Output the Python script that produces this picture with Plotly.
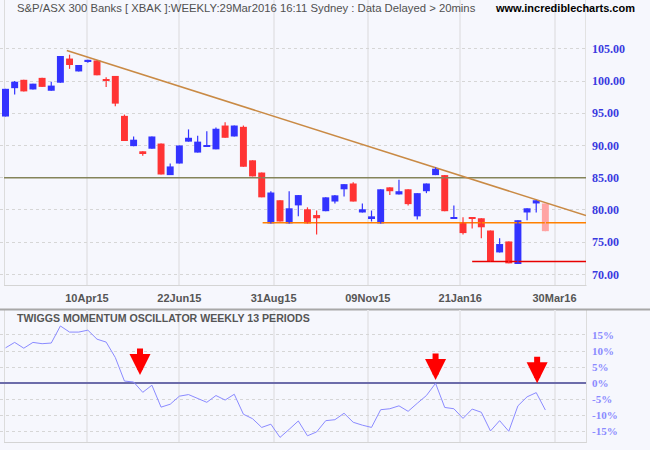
import plotly.graph_objects as go

# ---------------- data ----------------
weeks = list(range(60))
opens = [94.5, 98.9, 100.2, 98.7, 100.5, 98.5, 99.75, 103.5, 101.5, 103.05,
         103.2, 100.25, 100.8, 94.6, 89.9, 89.1, 89.5, 90.3, 85.4, 87.2,
         90.6, 88.9, 89.9, 89.4, 93.1, 91.4, 92.9, 87.7, 85.8, 77.9,
         81.5, 77.9, 80.7, 80.1, 79.2, 79.8, 81.3, 83.2, 84.1, 79.6,
         78.7, 77.9, 83.5, 82.4, 83.2, 79.0, 82.9, 85.4, 85.4, 78.7,
         78.1, 78.85, 78.7, 76.8, 73.4, 75.1, 71.6, 79.6, 81.0, 81.0]
highs = [98.8, 100.0, 100.2, 99.6, 100.5, 99.9, 103.9, 104.1, 102.5, 103.3,
         103.2, 100.6, 100.8, 94.8, 91.4, 89.1, 91.4, 90.3, 87.2, 90.0,
         92.5, 91.5, 92.2, 92.8, 93.6, 93.1, 93.1, 87.7, 85.8, 82.9,
         81.5, 82.9, 82.3, 80.4, 79.9, 81.95, 82.3, 84.0, 84.3, 81.0,
         79.9, 83.2, 83.5, 84.7, 83.2, 82.6, 84.1, 86.6, 85.4, 80.7,
         78.85, 78.85, 78.7, 76.8, 75.6, 75.1, 78.4, 80.25, 81.5, 81.0]
lows = [94.5, 97.9, 98.4, 98.7, 99.1, 98.5, 99.75, 101.9, 101.5, 102.85,
        100.9, 99.1, 96.1, 90.7, 89.9, 88.4, 89.5, 85.5, 85.4, 87.2,
        90.6, 88.9, 89.9, 89.4, 91.2, 91.4, 86.7, 85.2, 81.95, 77.9,
        78.2, 77.9, 79.0, 77.9, 76.2, 79.8, 81.0, 82.1, 81.3, 79.6,
        78.2, 77.9, 82.3, 82.4, 80.7, 78.5, 82.6, 85.4, 79.8, 78.7,
        76.2, 77.1, 75.6, 72.0, 73.4, 71.7, 71.6, 78.4, 79.6, 76.7]
closes = [98.8, 99.9, 98.4, 99.6, 99.1, 99.3, 103.9, 102.5, 102.5, 103.3,
          100.9, 100.1, 96.5, 90.7, 90.9, 88.8, 91.4, 85.5, 86.75, 90.0,
          91.2, 90.6, 90.05, 92.6, 91.2, 93.1, 86.7, 85.2, 81.95, 82.7,
          78.2, 80.25, 82.3, 77.9, 78.7, 81.95, 82.26, 84.0, 81.3, 80.1,
          79.0, 83.2, 82.9, 82.9, 80.9, 82.6, 84.1, 86.4, 79.8, 78.85,
          76.4, 78.7, 77.3, 72.0, 74.7, 71.7, 78.4, 80.25, 81.5, 76.7]

osc = [11.0, 12.7, 10.9, 12.7, 12.3, 12.5, 17.8, 15.9, 15.9, 16.5,
       13.7, 12.8, 8.0, 0.7, 0.4, -2.8, -0.6, -7.4, -6.5, -4.0,
       -3.5, -4.8, -5.9, -3.8, -5.2, -3.4, -9.6, -11.0, -13.7, -12.7,
       -16.8, -14.3, -11.7, -16.3, -15.1, -11.6, -11.3, -9.3, -12.1, -13.0,
       -13.7, -8.2, -7.9, -7.0, -8.7, -6.2, -3.8, 0.0, -7.5, -7.9,
       -10.9, -8.0, -9.0, -14.8, -11.6, -14.9, -7.0, -4.2, -2.9, -8.3]

tick_labels = ["10Apr15", "22Jun15", "31Aug15", "09Nov15", "21Jan16", "30Mar16"]
tick_pos = [8.9, 19.0, 29.3, 39.6, 49.7, 60.0]
price_ticks = [70, 75, 80, 85, 90, 95, 100, 105]
osc_ticks = [-15, -10, -5, 0, 5, 10, 15]
osc_tick_labels = ["-15%", "-10%", "-5%", "0%", "5%", "10%", "15%"]

trend_x = [6.7, 63.44]
trend_y = [104.75, 79.12]
levels = [85.0, 78.0, 72.0]
level_start = [-0.16, 28.1, 51.0]
level_colors = ["#84845a", "#ff8000", "#e80000"]

arrow_x = [14.7, 47.0, 58.1]
arrow_y = [2.6, 1.0, 0.0]

title = "S&P/ASX 300 Banks [ XBAK ]:WEEKLY:29Mar2016 16:11 Sydney : Data Delayed > 20mins"
site = "www.incrediblecharts.com"
osc_title = "TWIGGS MOMENTUM OSCILLATOR WEEKLY 13 PERIODS"

# ---------------- style ----------------
BG = "#f6f7fd"
BLUE = "#3333ff"
RED = "#ff3434"
PINK = "#ffa4a4"
VGRID = "#e8e8ec"
HGRID = "#d6d6d6"
XMIN, XMAX = -0.601, 63.44

colors = []
for i, (o, c) in enumerate(zip(opens, closes)):
    if i == len(opens) - 1:
        colors.append(PINK)
    elif c >= o:
        colors.append(BLUE)
    else:
        colors.append(RED)

bases = [min(o, c) for o, c in zip(opens, closes)]
heights = [max(abs(c - o), 0.18) for o, c in zip(opens, closes)]

fig = go.Figure()

# support / resistance levels and trend line
for lv, st, col in zip(levels, level_start, level_colors):
    fig.add_trace(go.Scatter(x=[st, XMAX], y=[lv, lv], mode="lines",
                             line=dict(color=col, width=1.6),
                             xaxis="x", yaxis="y", hoverinfo="skip"))
fig.add_trace(go.Scatter(x=trend_x, y=trend_y, mode="lines",
                         line=dict(color="#c98a45", width=1.5),
                         xaxis="x", yaxis="y", hoverinfo="skip"))

# wicks
for col in [BLUE, RED, PINK]:
    wx, wy = [], []
    for i in weeks:
        if colors[i] == col:
            wx += [i, i, None]
            wy += [lows[i], highs[i], None]
    fig.add_trace(go.Scatter(x=wx, y=wy, mode="lines",
                             line=dict(color=col, width=1.2),
                             xaxis="x", yaxis="y", hoverinfo="skip"))

# bodies
fig.add_trace(go.Bar(x=weeks, y=heights, base=bases, width=0.76,
                     marker=dict(color=colors, line=dict(width=0)),
                     xaxis="x", yaxis="y", hoverinfo="skip"))

# oscillator
fig.add_trace(go.Scatter(x=weeks, y=osc, mode="lines",
                         line=dict(color="#8a8aff", width=1),
                         xaxis="x2", yaxis="y2", hoverinfo="skip"))

annotations = [
    dict(text=title, xref="paper", yref="paper", x=14.5 / 586, y=1 - 7.5 / 450,
         xanchor="left", yanchor="middle", showarrow=False,
         font=dict(family="Liberation Sans", size=11.3, color="#505050")),
    dict(text=site, xref="paper", yref="paper", x=637 / 586, y=1 - 7.5 / 450,
         xanchor="right", yanchor="middle", showarrow=False,
         font=dict(family="Liberation Sans", size=11, color="#000000", weight="bold")),
    dict(text=osc_title, xref="paper", yref="paper", x=15.4 / 586, y=1 - 318.3 / 450,
         xanchor="left", yanchor="middle", showarrow=False,
         font=dict(family="Liberation Sans", size=10.6, color="#555555", weight="bold")),
]
for ax_, ay_ in zip(arrow_x, arrow_y):
    annotations.append(dict(x=ax_, y=ay_, xref="x2", yref="y2", text="",
                            showarrow=True, ax=0, ay=-28, arrowhead=2,
                            arrowsize=0.7, arrowwidth=6, arrowcolor="#ff0000",
                            standoff=0))

shapes = []
def line(x0, y0, x1, y1, color, width):
    shapes.append(dict(type="line", xref="paper", yref="paper",
                       x0=x0 / 586, x1=x1 / 586, y0=1 - y0 / 450, y1=1 - y1 / 450,
                       line=dict(color=color, width=width), layer="below"))

line(4.5, 0, 4.5, 285, "#dcdcdc", 1)
line(4, 285.5, 586.5, 285.5, "#d4d4d4", 1)
line(585.5, 0, 585.5, 285, "#e2e2e2", 1)
line(4.5, 310, 4.5, 442.5, "#dcdcdc", 1)
line(4, 442.5, 587, 442.5, "#d4d4d4", 1)
line(586.5, 310, 586.5, 442.5, "#dcdcdc", 1)
line(0, 309.5, 650, 309.5, "#a8a8a8", 2)

fig.update_layout(
    width=650, height=450,
    margin=dict(l=0, r=64, t=0, b=0),
    paper_bgcolor=BG, plot_bgcolor=BG,
    showlegend=False, barmode="overlay",
    annotations=annotations, shapes=shapes,
    xaxis=dict(domain=[0, 1], range=[XMIN, XMAX], anchor="y",
               tickmode="array", tickvals=tick_pos, ticktext=tick_labels,
               showgrid=True, gridcolor=VGRID, gridwidth=2,
               zeroline=False, showline=False, ticks="",
               ticklabelstandoff=5,
               tickfont=dict(family="Liberation Sans", size=11, color="#555555", weight="bold")),
    yaxis=dict(domain=[1 - 285 / 450, 1], range=[68.34, 112.59], anchor="x",
               side="right", tickmode="array", tickvals=price_ticks, tickformat=".2f",
               showgrid=True, gridcolor=HGRID, gridwidth=1, griddash="3px,3px",
               zeroline=False, showline=False, ticks="", ticklabelstandoff=5,
               tickfont=dict(family="Liberation Serif", size=12, color="#3a3ae0", weight="bold")),
    xaxis2=dict(domain=[0, 1], range=[XMIN, XMAX], anchor="y2", matches="x",
                tickmode="array", tickvals=tick_pos, showticklabels=False,
                showgrid=True, gridcolor=VGRID, gridwidth=2,
                zeroline=False, showline=False, ticks=""),
    yaxis2=dict(domain=[1 - 442.3 / 450, 1 - 310 / 450], range=[-18.32, 22.76], anchor="x2",
                side="right", tickmode="array", tickvals=osc_ticks, ticktext=osc_tick_labels,
                showgrid=True, gridcolor=HGRID, gridwidth=1, griddash="3px,3px",
                zeroline=True, zerolinecolor="#6c6caa", zerolinewidth=1.5,
                showline=False, ticks="", ticklabelstandoff=5,
                tickfont=dict(family="Liberation Serif", size=11, color="#8a8aff", weight="bold")),
)

fig.write_html("out.html", config={"displayModeBar": False})
